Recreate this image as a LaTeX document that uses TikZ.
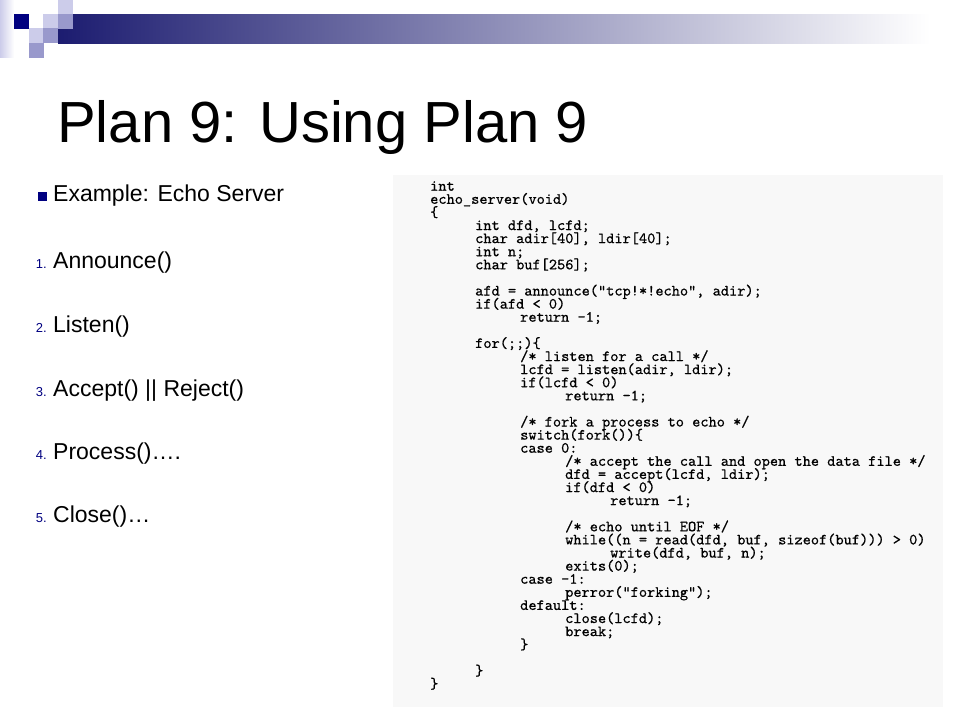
\documentclass[tikz,border=0pt]{standalone}
\usepackage{fontspec}
\setmainfont{Liberation Sans}
\newfontfamily\codefont{lmmono10-regular.otf}[FakeBold=0.6]
\usetikzlibrary{positioning}
\definecolor{slidenavy}{RGB}{0,0,128}
\definecolor{sqlight}{RGB}{204,204,234}
\definecolor{sqmid}{RGB}{153,153,204}
\definecolor{bardark}{RGB}{28,28,112}
\definecolor{barmid}{RGB}{168,168,188}
\definecolor{codebg}{RGB}{248,248,248}
\tikzstyle{title} = [anchor=base west, inner sep=0pt, font=\fontsize{58}{60}\selectfont]
\tikzstyle{item} = [anchor=base west, inner sep=0pt, font=\fontsize{23}{26}\selectfont]
\tikzstyle{numlabel} = [inner sep=0pt, text=slidenavy, font=\fontsize{13}{15}\selectfont]
\tikzstyle{code} = [anchor=base west, inner sep=0pt, align=left, font={\codefont\fontsize{15.6}{13.1}\selectfont\lineskiplimit=-50pt\lineskip=0pt}]
\newcommand{\codetab}{\hspace*{45pt}}

\begin{document}
\begin{tikzpicture}[x=1pt, y=-1pt]
\useasboundingbox (0,0) rectangle (960,720);

% header bar and squares
\shade [left color=sqlight, right color=white] (0,0) rectangle (14,57);
\shade [left color=bardark, middle color=barmid, right color=white] (58,14) rectangle (930,43);
\fill [sqlight] (58,0) rectangle +(14.5,14.5);
\fill [slidenavy] (14,14) rectangle +(14.5,14.5);
\fill [sqlight] (43,14) rectangle +(15,14.5);
\fill [sqmid] (58,14) rectangle +(14.5,14.5);
\fill [sqlight] (29,28) rectangle +(14.5,15);
\fill [sqmid] (43,28) rectangle +(15,15);
\fill [sqmid] (29,43) rectangle +(14.5,14.5);

\node (title) [title] at (57,142) {Plan 9: Using Plan 9};

% left column
\fill [slidenavy] (37.5,192) rectangle (46.5,201);
\node (ex) [item] at (53,201.5) {Example: Echo Server};
\node (i1) [item] at (53,268) {Announce()};
\node (i2) [item] at (53,332) {Listen()};
\node (i3) [item] at (53,396) {Accept() || Reject()};
\node (i4) [item] at (53,459) {Process()….};
\node (i5) [item] at (53,522) {Close()…};
\node (n1) [numlabel, base left=6pt of i1] {1.};
\node (n2) [numlabel, base left=6pt of i2] {2.};
\node (n3) [numlabel, base left=6pt of i3] {3.};
\node (n4) [numlabel, base left=6pt of i4] {4.};
\node (n5) [numlabel, base left=6pt of i5] {5.};

% code listing (base anchor = last line)
\fill [codebg] (393,175) rectangle (943,707);
\node (src) [code] at (430,688.5) {int\\
echo\_server(void)\\
\{\\
\codetab int dfd, lcfd;\\
\codetab char adir[40], ldir[40];\\
\codetab int n;\\
\codetab char buf[256];\\
\mbox{}\\
\codetab afd = announce("tcp!*!echo", adir);\\
\codetab if(afd < 0)\\
\codetab\codetab return -1;\\
\mbox{}\\
\codetab for(;;)\{\\
\codetab\codetab /* listen for a call */\\
\codetab\codetab lcfd = listen(adir, ldir);\\
\codetab\codetab if(lcfd < 0)\\
\codetab\codetab\codetab return -1;\\
\mbox{}\\
\codetab\codetab /* fork a process to echo */\\
\codetab\codetab switch(fork())\{\\
\codetab\codetab case 0:\\
\codetab\codetab\codetab /* accept the call and open the data file */\\
\codetab\codetab\codetab dfd = accept(lcfd, ldir);\\
\codetab\codetab\codetab if(dfd < 0)\\
\codetab\codetab\codetab\codetab return -1;\\
\mbox{}\\
\codetab\codetab\codetab /* echo until EOF */\\
\codetab\codetab\codetab while((n = read(dfd, buf, sizeof(buf))) > 0)\\
\codetab\codetab\codetab\codetab write(dfd, buf, n);\\
\codetab\codetab\codetab exits(0);\\
\codetab\codetab case -1:\\
\codetab\codetab\codetab perror("forking");\\
\codetab\codetab default:\\
\codetab\codetab\codetab close(lcfd);\\
\codetab\codetab\codetab break;\\
\codetab\codetab \}\\
\mbox{}\\
\codetab \}\\
\}};

\end{tikzpicture}
\end{document}
